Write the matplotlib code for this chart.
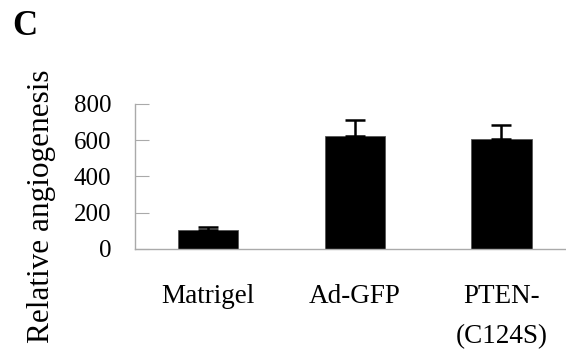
import matplotlib.pyplot as plt

plt.rcParams["font.family"] = ["Liberation Serif", "DejaVu Serif"]

groups = ["Matrigel", "Ad-GFP", "PTEN-\n(C124S)"]
values = [105, 625, 605]
errors = [18, 85, 77]
yticks = [0, 200, 400, 600, 800]

fig = plt.figure(figsize=(5.66, 3.5), dpi=100)
ax = fig.add_axes([0.2385, 0.2886, 0.7615, 0.4143])

x = range(len(groups))
ax.bar(x, values, width=0.41, color="black", edgecolor="#555555", linewidth=0.6)
ax.errorbar(x, values, yerr=[[0] * len(errors), errors], fmt="none",
            ecolor="black", elinewidth=1.8, capsize=7, capthick=1.8)

ax.set_xlim(-0.5, 2.44)
ax.set_ylim(0, 800)
ax.set_yticks(yticks)
ax.set_xticks(list(x))
ax.set_xticklabels(groups, fontsize=19.5, linespacing=1.8)
ax.tick_params(axis="x", length=0, pad=25)
ax.tick_params(axis="y", direction="in", length=10, color="#aaaaaa",
               labelsize=18, pad=17)

for side in ["top", "right"]:
    ax.spines[side].set_visible(False)
for side in ["left", "bottom"]:
    ax.spines[side].set_color("#aaaaaa")
    ax.spines[side].set_linewidth(1.0)

fig.text(0.074, 0.41, "Relative angiogenesis", rotation=90, fontsize=22.5,
         ha="center", va="center")
fig.text(0.022, 0.925, "C", fontsize=25, fontweight="bold", ha="left", va="center")

fig.savefig("out.png", dpi=100)
